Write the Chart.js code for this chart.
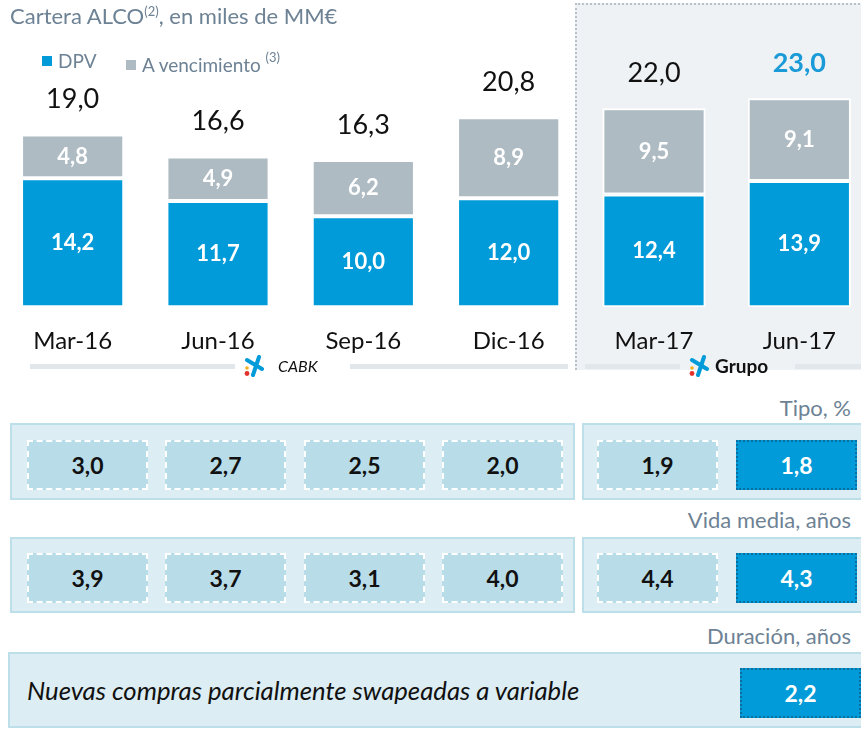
<!DOCTYPE html>
<html>
<head>
<meta charset="utf-8">
<script src="https://cdn.jsdelivr.net/npm/chart.js@4.4.0/dist/chart.umd.min.js"></script>
<style>
  html, body { margin: 0; padding: 0; background: #fff; overflow: hidden; }
  body { width: 861px; height: 731px; position: relative; font-family: Lato, 'Open Sans', sans-serif; }
  .abs { position: absolute; }
  #grupoPanel { left: 575px; top: 3px; width: 300px; height: 367px; background: #eef2f5;
    border-left: 2px dotted #b9c2c9; border-top: 2px dotted #b9c2c9; box-sizing: border-box; }
  #chartWrap { left: 0; top: 0; width: 872px; height: 390px; }
  .title { left: 10px; top: 2px; font-size: 22px; color: #6d8294; white-space: nowrap; }
  .title sup { font-size: 13px; }
  .legend { top: 49px; font-size: 19px; color: #6d8294; white-space: nowrap; }
  .legend sup { font-size: 13px; }
  .sq { display: inline-block; width: 10px; height: 10px; margin-right: 6px; vertical-align: 2px; }
  .gline { height: 5px; background: #e2e7eb; top: 364px; }
  .seg { top: 356px; font-size: 16px; color: #111; }
  .rowlabel { right: 10px; font-size: 22px; color: #6d8294; }
  .outer { background: #dcedf3; border: 2px solid #bcdfe9; box-sizing: border-box; }
  .cell { width: 121px; height: 50px; background: #b8dde8; border: 2px dashed #fff; box-sizing: border-box;
    display: flex; align-items: center; justify-content: center; font-weight: bold; font-size: 23px; color: #111; }
  .cell.hl { background: #009bd8; border: 2px dotted #0a6e9e; color: #fff; }
  .note { left: 27px; top: 675px; font-size: 25.7px; font-style: italic; color: #111; }
</style>
</head>
<body>
<div id="grupoPanel" class="abs"></div>
<div id="chartWrap" class="abs"><canvas id="alco"></canvas></div>

<div class="abs title">Cartera ALCO<sup>(2)</sup>, en miles de MM€</div>
<div class="abs legend" style="left:42px"><span class="sq" style="background:#009bd8"></span>DPV</div>
<div class="abs legend" style="left:126px"><span class="sq" style="background:#aebbc3"></span>A vencimiento <sup style="vertical-align:10px">(3)</sup></div>

<div class="abs gline" style="left:30px;width:205px"></div>
<div class="abs gline" style="left:350px;width:218px"></div>
<div class="abs gline" style="left:585px;width:95px"></div>
<div class="abs gline" style="left:795px;width:66px"></div>
<div class="abs seg" style="left:244px;top:355px" id="logo1"></div>
<div class="abs seg" style="left:278px;font-style:italic">CABK</div>
<div class="abs seg" style="left:689px;top:355px" id="logo2"></div>
<div class="abs seg" style="left:715px;top:354px;font-weight:bold;font-size:19px">Grupo</div>

<div class="abs rowlabel" style="top:394px">Tipo, %</div>
<div class="abs outer" style="left:10px;top:423px;width:565px;height:77px"></div>
<div class="abs outer" style="left:582px;top:423px;width:290px;height:77px"></div>
<div id="rowTipo"></div>

<div class="abs rowlabel" style="top:506px">Vida media, años</div>
<div class="abs outer" style="left:10px;top:537px;width:565px;height:76px"></div>
<div class="abs outer" style="left:582px;top:537px;width:290px;height:76px"></div>
<div id="rowVida"></div>

<div class="abs rowlabel" style="top:622px">Duración, años</div>
<div class="abs outer" style="left:8px;top:652px;width:870px;height:76px"></div>
<div class="abs note">Nuevas compras parcialmente swapeadas a variable</div>
<div id="rowDur"></div>

<script>
// --- Data ---
const periods = ['Mar-16', 'Jun-16', 'Sep-16', 'Dic-16', 'Mar-17', 'Jun-17'];
const dpv = [14.2, 11.7, 10.0, 12.0, 12.4, 13.9];
const aVencimiento = [4.8, 4.9, 6.2, 8.9, 9.5, 9.1];
const totals = [19.0, 16.6, 16.3, 20.8, 22.0, 23.0];
const tipo = [3.0, 2.7, 2.5, 2.0, 1.9, 1.8];
const vidaMedia = [3.9, 3.7, 3.1, 4.0, 4.4, 4.3];
const duracion = [2.2];

const BLUE = '#009bd8';
const GREY = '#aebbc3';
const FONT = 'Lato, "Open Sans", sans-serif';

const fmt = v => v.toFixed(1).replace('.', ',');

// --- Logo (simple CaixaBank star) ---
const logoSvg = '<svg width="20" height="22" viewBox="0 0 20 22">' +
  '<path d="M3 5 L18 14" stroke="' + BLUE + '" stroke-width="4" stroke-linecap="round"/>' +
  '<path d="M15 2 L9 20" stroke="' + BLUE + '" stroke-width="4" stroke-linecap="round"/>' +
  '<circle cx="3" cy="13" r="1.8" fill="#f2b11c"/><circle cx="3" cy="18.5" r="2.4" fill="#e4332b"/></svg>';
document.getElementById('logo1').innerHTML = logoSvg;
document.getElementById('logo2').innerHTML = logoSvg;

// --- Box rows below the chart ---
const cellLefts = [27, 165, 304, 442, 597, 736];
function buildRow(elId, values, top) {
  const row = document.getElementById(elId);
  values.forEach((v, i) => {
    const d = document.createElement('div');
    d.className = 'abs cell' + (i === values.length - 1 ? ' hl' : '');
    d.style.left = cellLefts[i] + 'px';
    d.style.top = top + 'px';
    d.textContent = fmt(v);
    row.appendChild(d);
  });
}
buildRow('rowTipo', tipo, 440);
buildRow('rowVida', vidaMedia, 553);
duracion.forEach(v => {
  const d = document.createElement('div');
  d.className = 'abs cell hl';
  d.style.left = '740px';
  d.style.top = '668px';
  d.textContent = fmt(v);
  document.getElementById('rowDur').appendChild(d);
});

// --- Labels plugin: values inside segments + totals on top ---
const labelsPlugin = {
  id: 'barLabels',
  afterDatasetsDraw(chart) {
    const ctx = chart.ctx;
    ctx.save();
    ctx.textAlign = 'center';
    ctx.textBaseline = 'middle';
    chart.data.datasets.forEach((ds, di) => {
      chart.getDatasetMeta(di).data.forEach((bar, i) => {
        ctx.fillStyle = '#fff';
        ctx.font = 'bold 22px ' + FONT;
        ctx.fillText(fmt(ds.data[i]), bar.x, (bar.y + bar.base) / 2);
      });
    });
    const top = chart.getDatasetMeta(1).data;
    totals.forEach((t, i) => {
      const last = i === totals.length - 1;
      ctx.fillStyle = last ? '#1a9ad6' : '#111';
      ctx.font = (last ? 'bold 27px ' : '27px ') + FONT;
      ctx.fillText(fmt(t), top[i].x, top[i].y - 35);
    });
    ctx.restore();
  }
};

new Chart(document.getElementById('alco'), {
  type: 'bar',
  data: {
    labels: periods,
    datasets: [
      { label: 'DPV', data: dpv, backgroundColor: BLUE, borderColor: '#fff', borderWidth: 2, borderSkipped: false },
      { label: 'A vencimiento', data: aVencimiento, backgroundColor: GREY, borderColor: '#fff', borderWidth: 2, borderSkipped: false }
    ]
  },
  options: {
    responsive: true,
    maintainAspectRatio: false,
    animation: false,
    layout: { padding: { top: 2, bottom: 14, left: 0, right: 0 } },
    plugins: { legend: { display: false }, tooltip: { enabled: false } },
    datasets: { bar: { barPercentage: 0.71, categoryPercentage: 1 } },
    scales: {
      x: {
        stacked: true,
        grid: { display: false, drawTicks: false },
        border: { display: false },
        ticks: { color: '#111', padding: 20, font: { size: 24, family: FONT } }
      },
      y: {
        stacked: true,
        display: false,
        min: 0,
        max: 33.6
      }
    }
  },
  plugins: [labelsPlugin]
});
</script>
</body>
</html>
